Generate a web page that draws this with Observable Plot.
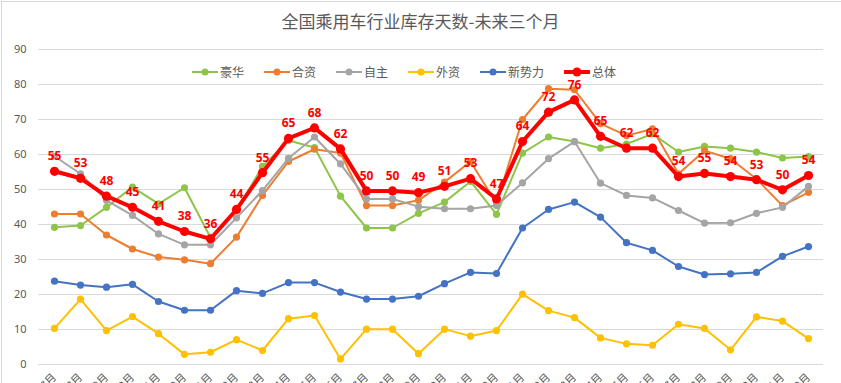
<!DOCTYPE html>
<html><head><meta charset="utf-8">
<script src="https://cdn.jsdelivr.net/npm/d3@7"></script>
<script src="https://cdn.jsdelivr.net/npm/@observablehq/plot@0.6"></script>
<style>
html,body{margin:0;padding:0;background:#fff;overflow:hidden;}
#wrap{position:relative;width:841px;height:383px;overflow:hidden;font-family:"Noto Sans CJK SC","Noto Sans",sans-serif;}
#frame{position:absolute;left:1px;top:1px;width:845px;height:400px;border-left:1px solid #d9d9d9;border-top:1px solid #d9d9d9;pointer-events:none;}
#title{position:absolute;left:0;top:8px;width:841px;text-align:center;font-size:17px;color:#595959;}
#legend{position:absolute;left:192px;top:63px;display:flex;justify-content:flex-start;gap:20px;font-size:12px;color:#595959;}
.item{display:flex;align-items:center;gap:2px;}
#chart{position:absolute;left:0;top:0;}
</style></head>
<body><div id="wrap"><div id="chart"></div><div id="title"></div><div id="legend"></div><div id="frame"></div></div>
<script>
const titleText = "全国乘用车行业库存天数-未来三个月";
const months = ["21年7月","21年8月","21年9月","21年10月","21年11月","21年12月","22年1月","22年2月","22年3月","22年4月","22年5月","22年6月","22年7月","22年8月","22年9月","22年10月","22年11月","22年12月","23年1月","23年2月","23年3月","23年4月","23年5月","23年6月","23年7月","23年8月","23年9月","23年10月","23年11月","23年12月"];
const seriesNames = ["豪华","合资","自主","外资","新势力","总体"];
const seriesColors = ["#8dc549","#ed7d31","#a5a5a5","#ffc000","#4472c4","#ff0000"];
const luxury   = [39.2,39.7,44.9,50.7,45.9,50.5,36.3,44.0,56.6,64.0,62.0,48.1,39.0,39.0,43.2,46.4,52.3,42.9,60.4,65.0,63.7,61.8,63.0,65.9,60.7,62.3,61.8,60.7,59.0,59.4];
const jointVenture = [43.0,43.0,37.0,33.0,30.7,29.9,28.8,36.4,48.3,58.0,61.5,60.4,45.4,45.4,46.9,52.1,58.0,46.0,70.0,78.8,78.5,68.8,65.4,67.3,54.5,61.1,58.8,53.0,45.4,49.2];
const domestic = [59.5,54.5,46.9,42.6,37.3,34.2,34.2,41.9,49.7,58.9,65.0,57.3,47.3,47.3,45.1,44.5,44.5,45.4,51.9,58.8,63.7,51.8,48.3,47.6,44.0,40.4,40.5,43.2,44.9,50.9];
const foreign  = [10.3,18.7,9.7,13.7,8.8,2.9,3.5,7.1,4.0,13.1,14.0,1.6,10.1,10.1,3.1,10.1,8.1,9.7,20.1,15.4,13.4,7.6,5.9,5.5,11.5,10.3,4.2,13.6,12.4,7.4];
const newForce = [23.8,22.7,22.1,22.9,18.0,15.5,15.5,21.1,20.3,23.4,23.4,20.7,18.7,18.7,19.5,23.1,26.3,26.0,39.0,44.3,46.4,42.1,34.8,32.6,28.0,25.7,25.9,26.3,30.9,33.7];
const total    = [55.2,53.2,48.1,44.9,40.9,38.0,35.9,44.3,54.8,64.6,67.6,61.6,49.6,49.6,49.1,50.9,53.1,47.3,63.7,72.1,75.6,65.2,61.8,61.8,53.7,54.6,53.7,52.8,49.9,54.0];
const yTicks = [0,10,20,30,40,50,60,70,80,90];

const allSeries = [luxury, jointVenture, domestic, foreign, newForce, total];
const rows = [];
allSeries.forEach((arr, si) => arr.forEach((v, i) => rows.push({s: seriesNames[si], m: months[i], v})));
const others = rows.filter(d => d.s !== "总体");
const totRows = rows.filter(d => d.s === "总体");

document.getElementById("title").textContent = titleText;
const leg = document.getElementById("legend");
seriesNames.forEach((n, i) => {
  const big = n === "总体";
  const it = document.createElement("div"); it.className = "item";
  it.innerHTML = `<svg width="26" height="10"><line x1="0" x2="26" y1="5" y2="5" stroke="${seriesColors[i]}" stroke-width="${big?4:2}"/><circle cx="13" cy="5" r="${big?4.5:3.5}" fill="${seriesColors[i]}"/></svg><span>${n}</span>`;
  leg.appendChild(it);
});

const chart = Plot.plot({
  width: 841, height: 430,
  marginTop: 49, marginBottom: 66, marginLeft: 38, marginRight: 18,
  style: {fontFamily: "'Noto Sans','Noto Sans CJK SC',sans-serif", fontSize: "11px", color: "#595959", background: "transparent"},
  x: {type: "point", domain: months, padding: 0.5, label: null, tickSize: 0, tickRotate: -45, tickPadding: 11},
  y: {domain: [0, 90], ticks: yTicks, label: null, tickSize: 0, tickPadding: 12},
  color: {domain: seriesNames, range: seriesColors},
  marks: [
    Plot.ruleY(yTicks, {stroke: "#d9d9d9", strokeWidth: 1}),
    ...seriesNames.slice(0, 5).flatMap(n => [
      Plot.line(others.filter(d => d.s === n), {x: "m", y: "v", stroke: "s", strokeWidth: 2}),
      Plot.dot(others.filter(d => d.s === n), {x: "m", y: "v", fill: "s", r: 3.6})
    ]),
    Plot.line(totRows, {x: "m", y: "v", stroke: "s", strokeWidth: 4}),
    Plot.dot(totRows, {x: "m", y: "v", fill: "s", r: 4.6}),
    Plot.text(totRows, {x: "m", y: "v", text: d => String(Math.round(d.v)), dy: -15, fill: "#ff0000", fontWeight: "bold", fontSize: 12})
  ]
});
document.getElementById("chart").appendChild(chart);
</script></body></html>
